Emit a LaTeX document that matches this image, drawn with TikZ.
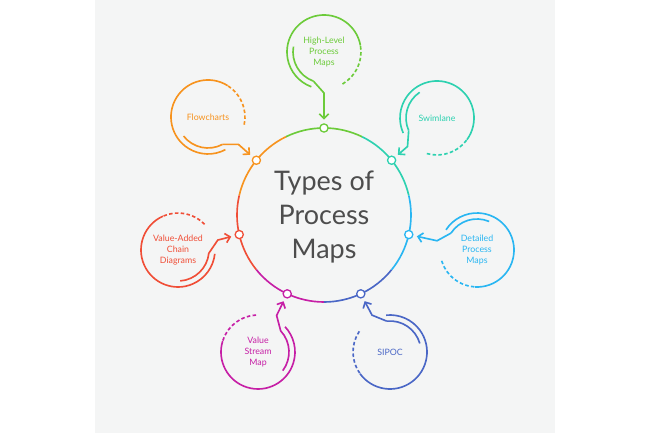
\documentclass[tikz,border=0pt]{standalone}
\usepackage{fontspec}
\setmainfont{Lato}
\usetikzlibrary{arrows.meta}
\definecolor{bgcol}{HTML}{F4F5F5}
\definecolor{hlcol}{HTML}{6CCB3A}
\definecolor{fccol}{HTML}{F7931E}
\definecolor{swcol}{HTML}{2DD1B0}
\definecolor{dtcol}{HTML}{29B6F2}
\definecolor{vacol}{HTML}{F04E37}
\definecolor{vscol}{HTML}{C61FA6}
\definecolor{sicol}{HTML}{4A67C6}
\definecolor{txtcol}{HTML}{4D4D4D}
\tikzset{
  sat/.style={circle,minimum size=2.2cm,inner sep=0pt,align=center,font=\fontsize{7.5}{9.5}\selectfont},
  dot/.style={circle,fill=white,line width=1.1pt,minimum size=7pt,inner sep=0pt},
  ring/.style={line width=1.4pt}
}
\begin{document}
\begin{tikzpicture}[x=0.03cm,y=0.03cm]
  \useasboundingbox (0,0) rectangle (650,433);
  \fill[white] (0,0) rectangle (650,433);
  \fill[bgcol] (95,0) rectangle (555,433);

  % centre
  \node[font=\fontsize{23}{29}\selectfont,text=txtcol,align=center] (main) at (324,216) {Types of\\Process\\Maps};
  \draw[ring,hlcol] (324,218) ++(64:87) arc (64:116:87);
  \draw[ring,fccol] (324,218) ++(116:87) arc (116:167:87);
  \draw[ring,vacol] (324,218) ++(167:87) arc (167:219:87);
  \draw[ring,vscol] (324,218) ++(219:87) arc (219:270:87);
  \draw[ring,sicol] (324,218) ++(270:87) arc (270:321:87);
  \draw[ring,dtcol] (324,218) ++(321:87) arc (321:373:87);
  \draw[ring,swcol] (324,218) ++(13:87) arc (13:64:87);

  % dots on the ring
  \node[dot,draw=hlcol] (dhl) at ([shift={(90:87)}]324,218) {};
  \node[dot,draw=fccol] (dfc) at ([shift={(141:87)}]324,218) {};
  \node[dot,draw=swcol] (dsw) at ([shift={(39:87)}]324,218) {};
  \node[dot,draw=dtcol] (ddt) at ([shift={(-13:87)}]324,218) {};
  \node[dot,draw=vacol] (dva) at ([shift={(193:87)}]324,218) {};
  \node[dot,draw=vscol] (dvs) at ([shift={(245:87)}]324,218) {};
  \node[dot,draw=sicol] (dsi) at ([shift={(295:87)}]324,218) {};

  % satellites
  \node[sat,text=hlcol] (hl) at (324,381) {High-Level\\Process\\Maps};
  \node[sat,text=fccol] (fc) at (208,316) {Flowcharts};
  \node[sat,text=swcol] (sw) at (437,315) {Swimlane};
  \node[sat,text=dtcol] (dt) at (477,183) {Detailed\\Process\\Maps};
  \node[sat,text=vacol] (va) at (178,183) {Value-Added\\Chain\\Diagrams};
  \node[sat,text=vscol] (vs) at (258,81) {Value\\Stream\\Map};
  \node[sat,text=sicol] (si) at (390,81) {SIPOC};

  \foreach \s/\d/\t/\c in {hl/dhl/-90/hlcol, fc/dfc/-42/fccol, sw/dsw/224/swcol,
      dt/ddt/167/dtcol, va/dva/14/vacol, vs/dvs/63/vscol, si/dsi/116/sicol} {
    \draw[ring,\c] ([shift={(\t+100:37)}]\s.center) arc (\t+100:\t+340:37);
    \draw[ring,\c,dashed,dash pattern=on 3pt off 2pt] ([shift={(\t+30:37)}]\s.center) arc (\t+30:\t+100:37);
    \draw[ring,\c] ([shift={(\t-100:31)}]\s.center) arc (\t-100:\t-20:31);
    \draw[ring,\c,-{Straight Barb[length=4pt,width=8pt]},shorten >=3pt]
      ([shift={(\t-20:31)}]\s.center) -- ([shift={(\t:41)}]\s.center) -- (\d);
  }
\end{tikzpicture}
\end{document}
